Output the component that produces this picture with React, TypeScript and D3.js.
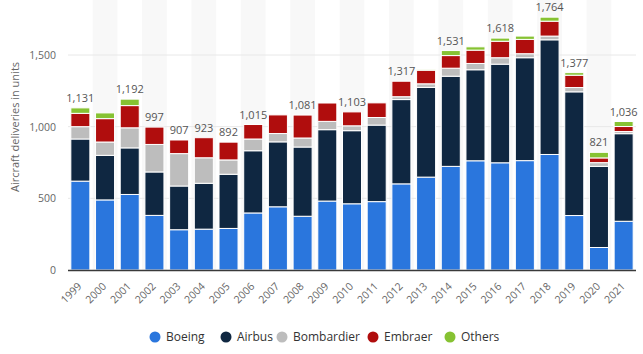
import React from "react";
import * as d3 from "d3";

const years = ["1999","2000","2001","2002","2003","2004","2005","2006","2007","2008","2009","2010","2011","2012","2013","2014","2015","2016","2017","2018","2019","2020","2021"];
const boeing = [620,489,527,381,281,285,290,398,441,375,481,462,477,601,648,723,762,748,763,806,380,157,340];
const airbus = [294,311,325,303,305,320,378,434,453,483,498,510,534,588,626,629,635,688,718,800,863,566,611];
const bombardier = [86,93,140,192,226,178,100,82,58,63,58,34,53,20,25,56,44,45,28,26,30,26,15];
const embraer = [93,163,155,121,95,140,124,101,130,160,128,97,102,108,95,88,93,115,100,104,86,33,35];
const others = [38,40,45,0,0,0,0,0,0,0,0,0,0,0,3,35,23,22,23,28,18,39,35];
const labelled = ["1999","2001","2002","2003","2004","2005","2006","2008","2010","2012","2014","2016","2018","2019","2020","2021"];
const seriesNames = ["Boeing","Airbus","Bombardier","Embraer","Others"];
const seriesColors = ["#2a76dd","#0f2741","#bdbdbd","#b00d0d","#86c232"];
const yTicks = [0,500,1000,1500];

const W = 643, H = 354;
const FONT = "'Open Sans', sans-serif";

export default function App() {
  const x = d3.scaleBand<string>().domain(years).range([68, 636]).paddingInner(0.23).paddingOuter(0.115);
  const y = d3.scaleLinear().domain([0, 1500]).range([270, 55]);
  const seriesData = [boeing, airbus, bombardier, embraer, others];
  const rows = years.map((yr, i) => {
    const r: any = { year: yr };
    seriesNames.forEach((n, k) => (r[n] = seriesData[k][i]));
    return r;
  });
  const stacked = d3.stack<any>().keys(seriesNames)(rows);
  const step = x.step();
  const bw = x.bandwidth();
  const fmt = d3.format(",");

  const legendX = [155, 226, 282, 373, 450];

  return (
    <svg width={W} height={H} style={{ position: "absolute", left: 0, top: 0, background: "#fff" }} fontFamily={FONT}>
      {years.map((yr, i) =>
        i % 2 === 1 ? (
          <rect key={"band" + yr} x={(x(yr) as number) + bw / 2 - step / 2} y={0} width={step} height={270} fill="#f8f8f8" />
        ) : null
      )}
      {yTicks.map((t) => (
        <g key={"g" + t}>
          {t > 0 && <line x1={68} x2={636} y1={y(t)} y2={y(t)} stroke="#e8e8e8" strokeWidth={1} />}
          <text x={56} y={y(t) + 4} textAnchor="end" fontSize={10.5} fill="#666">{fmt(t)}</text>
        </g>
      ))}
      {stacked.map((s, k) => (
        <g key={s.key} fill={seriesColors[k]}>
          {s.map((d, i) =>
            d[1] - d[0] > 0 ? (
              <rect key={i} x={x(years[i])} y={y(d[1])} width={bw} height={y(d[0]) - y(d[1])} stroke="#fff" strokeWidth={1} />
            ) : null
          )}
        </g>
      ))}
      <line x1={68} x2={636} y1={270.5} y2={270.5} stroke="#3a3a3a" strokeWidth={1.5} />
      {years.map((yr, i) => {
        if (!labelled.includes(yr)) return null;
        const tot = seriesData.reduce((a, s) => a + s[i], 0);
        return (
          <text key={"l" + yr} x={(x(yr) as number) + bw / 2} y={y(tot) - 6} textAnchor="middle" fontSize={11} fill="#555">{fmt(tot)}</text>
        );
      })}
      {years.map((yr) => {
        const cx = (x(yr) as number) + bw / 2 + 2;
        return (
          <text key={"x" + yr} transform={`translate(${cx},${287}) rotate(-45)`} textAnchor="end" fontSize={10.5} fill="#666">{yr}</text>
        );
      })}
      <text transform={`translate(19,127) rotate(-90)`} textAnchor="middle" fontSize={11} fill="#666">Aircraft deliveries in units</text>
      {seriesNames.map((n, k) => (
        <g key={"lg" + n}>
          <circle cx={legendX[k]} cy={337} r={5.5} fill={seriesColors[k]} />
          <text x={legendX[k] + 11} y={341} fontSize={12} fill="#333">{n}</text>
        </g>
      ))}
    </svg>
  );
}
